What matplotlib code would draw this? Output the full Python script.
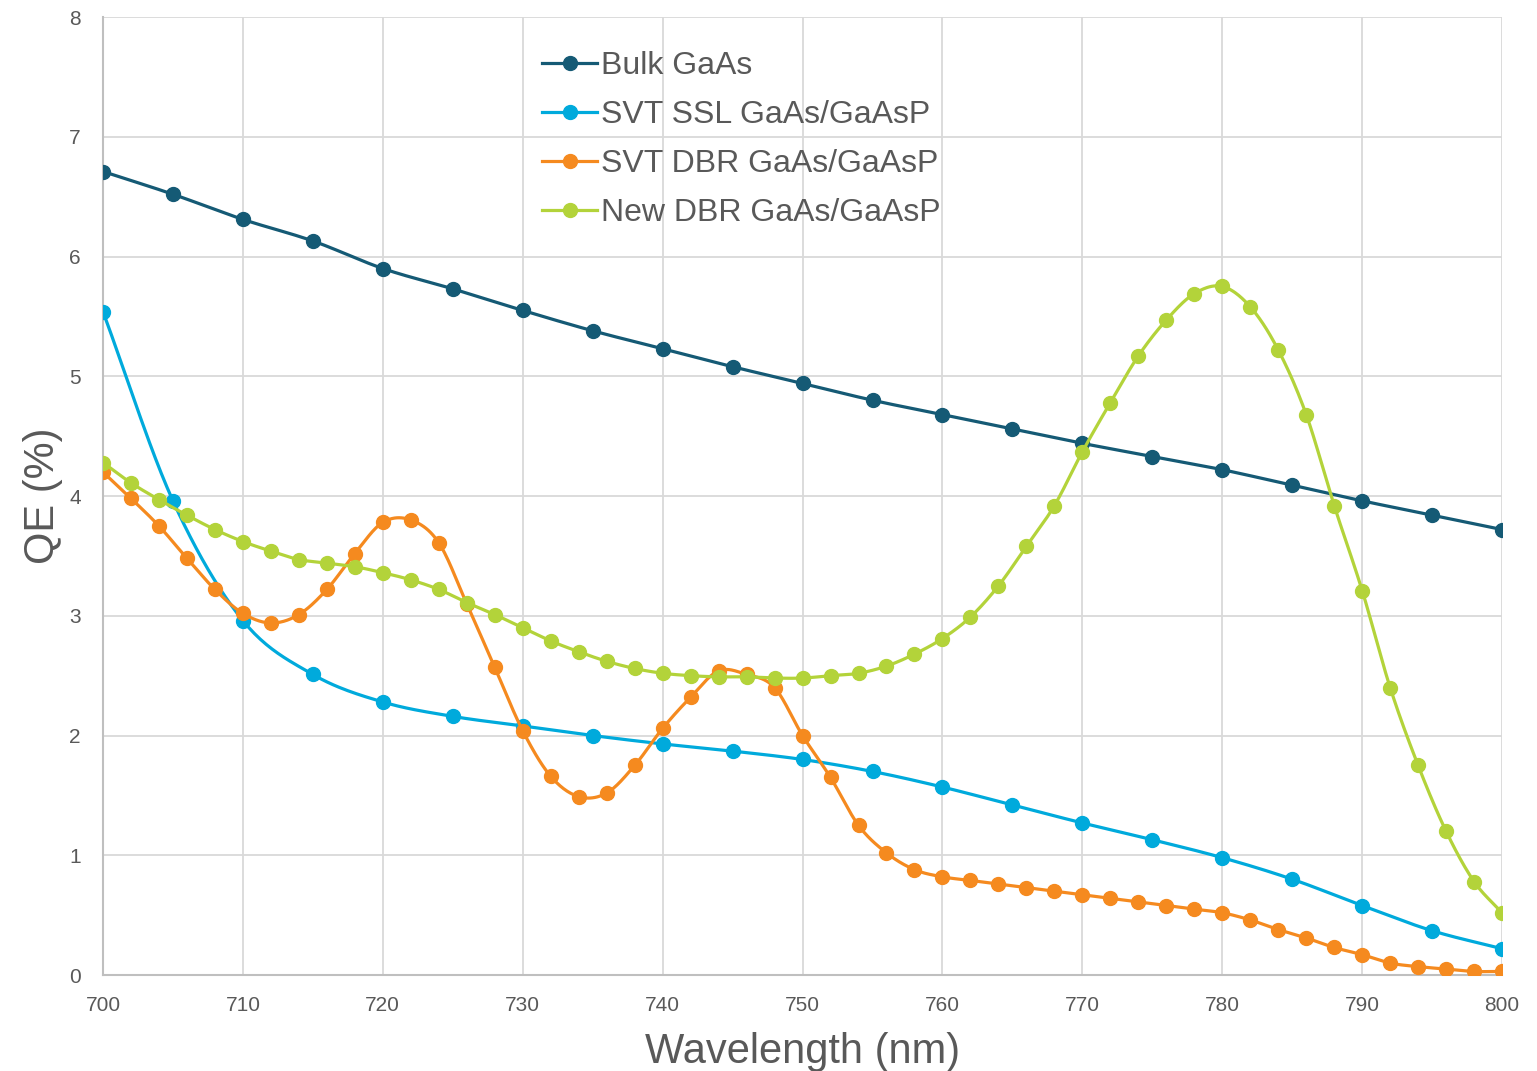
import numpy as np
import matplotlib
matplotlib.use("Agg")
import matplotlib.pyplot as plt
from matplotlib.lines import Line2D

# Wavelength grids (nm)
wl_5nm = [700, 705, 710, 715, 720, 725, 730, 735, 740, 745, 750,
          755, 760, 765, 770, 775, 780, 785, 790, 795, 800]
wl_2nm = list(range(700, 801, 2))

# Quantum efficiency (%)
bulk_gaas = [6.71, 6.52, 6.31, 6.13, 5.90, 5.73, 5.55, 5.38, 5.23, 5.08, 4.94,
             4.80, 4.68, 4.56, 4.44, 4.33, 4.22, 4.09, 3.96, 3.84, 3.72]
svt_ssl = [5.54, 3.96, 2.96, 2.51, 2.28, 2.16, 2.08, 2.00, 1.93, 1.87, 1.80,
           1.70, 1.57, 1.42, 1.27, 1.13, 0.98, 0.80, 0.58, 0.37, 0.22]
svt_dbr = [4.20, 3.98, 3.75, 3.48, 3.22, 3.02, 2.94, 3.01, 3.22, 3.52,
           3.78, 3.80, 3.61, 3.10, 2.57, 2.04, 1.66, 1.49, 1.52, 1.75,
           2.06, 2.32, 2.54, 2.51, 2.40, 2.00, 1.65, 1.25, 1.02, 0.88,
           0.82, 0.79, 0.76, 0.73, 0.70, 0.67, 0.64, 0.61, 0.58, 0.55,
           0.52, 0.46, 0.38, 0.31, 0.23, 0.17, 0.10, 0.07, 0.05, 0.03,
           0.03]
new_dbr = [4.28, 4.11, 3.97, 3.84, 3.72, 3.62, 3.54, 3.47, 3.44, 3.41,
           3.36, 3.30, 3.22, 3.11, 3.01, 2.90, 2.79, 2.70, 2.62, 2.56,
           2.52, 2.50, 2.49, 2.49, 2.48, 2.48, 2.50, 2.52, 2.58, 2.68,
           2.81, 2.99, 3.25, 3.58, 3.92, 4.37, 4.78, 5.17, 5.47, 5.69,
           5.75, 5.58, 5.22, 4.68, 3.92, 3.21, 2.40, 1.75, 1.20, 0.78,
           0.52]

labels = ["Bulk GaAs", "SVT SSL GaAs/GaAsP", "SVT DBR GaAs/GaAsP",
          "New DBR GaAs/GaAsP"]
colors = ["#155A75", "#00AADC", "#F58A1F", "#B3D33A"]

x_ticks = list(range(700, 801, 10))
y_ticks = list(range(0, 9))

TEXT = "#595959"
plt.rcParams["font.family"] = ["Liberation Sans", "DejaVu Sans"]


def smooth(x, y, n=24):
    """Catmull-Rom style Bezier smoothing through every point."""
    x = np.asarray(x, float)
    y = np.asarray(y, float)
    px = np.concatenate([[2 * x[0] - x[1]], x, [2 * x[-1] - x[-2]]])
    py = np.concatenate([[2 * y[0] - y[1]], y, [2 * y[-1] - y[-2]]])
    xs, ys = [], []
    t = np.linspace(0, 1, n, endpoint=False)
    for i in range(1, len(px) - 2):
        p0 = np.array([px[i - 1], py[i - 1]])
        p1 = np.array([px[i], py[i]])
        p2 = np.array([px[i + 1], py[i + 1]])
        p3 = np.array([px[i + 2], py[i + 2]])
        c1 = p1 + (p2 - p0) / 6.0
        c2 = p2 - (p3 - p1) / 6.0
        b = ((1 - t) ** 3)[:, None] * p1 + (3 * (1 - t) ** 2 * t)[:, None] * c1 \
            + (3 * (1 - t) * t ** 2)[:, None] * c2 + (t ** 3)[:, None] * p2
        xs.append(b[:, 0])
        ys.append(b[:, 1])
    xs.append([x[-1]])
    ys.append([y[-1]])
    return np.concatenate(xs), np.concatenate(ys)


fig = plt.figure(figsize=(15.37, 10.71), dpi=100)
ax = fig.add_axes([0.067, 0.0896, 0.9103, 0.8945])

series = [(wl_5nm, bulk_gaas), (wl_5nm, svt_ssl),
          (wl_2nm, svt_dbr), (wl_2nm, new_dbr)]
for (xv, yv), c in zip(series, colors):
    sx, sy = smooth(xv, yv)
    ax.plot(sx, sy, color=c, lw=2.3, solid_capstyle="round", zorder=3)
    ax.plot(xv, yv, ls="none", marker="o", ms=10, color=c, mec=c, zorder=3)

ax.set_xlim(700, 800)
ax.set_ylim(0, 8)
ax.set_xticks(x_ticks)
ax.set_yticks(y_ticks)
ax.grid(True, color="#D9D9D9", lw=1.3, zorder=0)
ax.set_axisbelow(True)
for s in ["top", "right"]:
    ax.spines[s].set_visible(False)
for s in ["left", "bottom"]:
    ax.spines[s].set_color("#BFBFBF")
    ax.spines[s].set_linewidth(1.5)
ax.tick_params(axis="both", length=0, labelsize=15, labelcolor=TEXT)
ax.tick_params(axis="x", pad=15)
ax.tick_params(axis="y", pad=16)

ax.set_xlabel("Wavelength (nm)", fontsize=30, color=TEXT, labelpad=12)
ax.set_ylabel("QE (%)", fontsize=30, color=TEXT, labelpad=4)

handles = [Line2D([], [], color=c, lw=2.3, marker="o", ms=10) for c in colors]
leg = ax.legend(handles, labels, loc="upper left",
                bbox_to_anchor=(0.305, 0.978), frameon=False, fontsize=23,
                handlelength=1.7, handletextpad=0.12, labelspacing=0.6,
                borderaxespad=0)
for t in leg.get_texts():
    t.set_color(TEXT)

fig.savefig("out.png", dpi=100, facecolor="white")
